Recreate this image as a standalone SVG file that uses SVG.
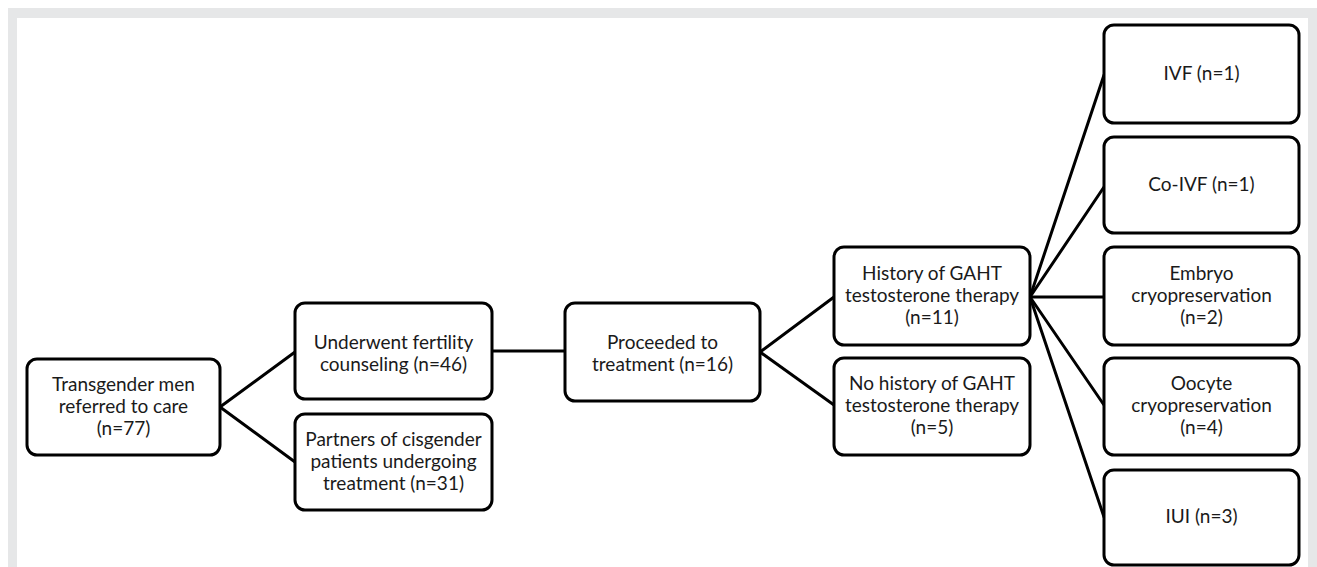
<svg xmlns="http://www.w3.org/2000/svg" width="1317" height="567" viewBox="0 0 1317 567">
<style>
.node rect{fill:#fff;stroke:#000;stroke-width:3}
.node text{font-family:Lato,"Open Sans","Liberation Sans",sans-serif;font-size:19px;fill:#1a1a1a;text-anchor:middle}
#connectors line{stroke:#000;stroke-width:3;stroke-linecap:round}
</style>
<rect x="0" y="0" width="1317" height="567" fill="#fff"/>
<rect x="8" y="8" width="1309" height="559" fill="#e6e7e8"/>
<rect x="17" y="18" width="1291" height="549" fill="#fff"/>
<g id="connectors">
<line x1="220" y1="407" x2="295" y2="352"/>
<line x1="220" y1="407" x2="295" y2="462"/>
<line x1="492" y1="351" x2="565" y2="351"/>
<line x1="760" y1="352" x2="834" y2="297"/>
<line x1="760" y1="352" x2="834" y2="405"/>
<line x1="1030" y1="297" x2="1104" y2="75"/>
<line x1="1030" y1="297" x2="1104" y2="187"/>
<line x1="1030" y1="297" x2="1104" y2="297"/>
<line x1="1030" y1="297" x2="1104" y2="405"/>
<line x1="1030" y1="297" x2="1104" y2="517"/>
</g>
<g id="n-transgender" class="node"><rect x="27" y="359" width="193" height="96" rx="10"/>
<text x="123.5" y="391">Transgender men</text><text x="123.5" y="413">referred to care</text><text x="123.5" y="435">(n=77)</text></g>
<g id="n-counseling" class="node"><rect x="295" y="303" width="197" height="96" rx="10"/>
<text x="393.5" y="349">Underwent fertility</text><text x="393.5" y="371">counseling (n=46)</text></g>
<g id="n-partners" class="node"><rect x="295" y="414" width="197" height="96" rx="10"/>
<text x="393.5" y="446">Partners of cisgender</text><text x="393.5" y="468">patients undergoing</text><text x="393.5" y="490">treatment (n=31)</text></g>
<g id="n-treatment" class="node"><rect x="565" y="303" width="195" height="98" rx="10"/>
<text x="662.5" y="349">Proceeded to</text><text x="662.5" y="371">treatment (n=16)</text></g>
<g id="n-history" class="node"><rect x="834" y="247" width="196" height="98" rx="10"/>
<text x="932" y="280">History of GAHT</text><text x="932" y="302">testosterone therapy</text><text x="932" y="324">(n=11)</text></g>
<g id="n-nohistory" class="node"><rect x="834" y="358" width="196" height="97" rx="10"/>
<text x="932" y="390">No history of GAHT</text><text x="932" y="412">testosterone therapy</text><text x="932" y="434">(n=5)</text></g>
<g id="n-ivf" class="node"><rect x="1104" y="25" width="195" height="98" rx="10"/>
<text x="1201.5" y="80">IVF (n=1)</text></g>
<g id="n-coivf" class="node"><rect x="1104" y="137" width="195" height="96" rx="10"/>
<text x="1201.5" y="191">Co-IVF (n=1)</text></g>
<g id="n-embryo" class="node"><rect x="1104" y="247" width="195" height="98" rx="10"/>
<text x="1201.5" y="280">Embryo</text><text x="1201.5" y="302">cryopreservation</text><text x="1201.5" y="324">(n=2)</text></g>
<g id="n-oocyte" class="node"><rect x="1104" y="358" width="195" height="97" rx="10"/>
<text x="1201.5" y="390">Oocyte</text><text x="1201.5" y="412">cryopreservation</text><text x="1201.5" y="434">(n=4)</text></g>
<g id="n-iui" class="node"><rect x="1104" y="470" width="195" height="95" rx="10"/>
<text x="1201.5" y="523">IUI (n=3)</text></g>
</svg>
